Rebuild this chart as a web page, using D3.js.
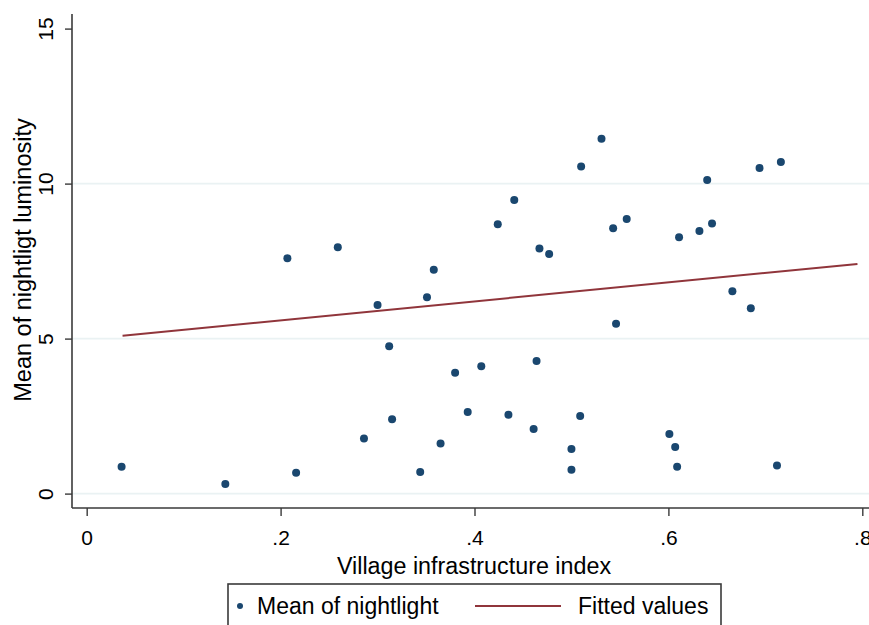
<!DOCTYPE html>
<html>
<head>
<meta charset="utf-8">
<script src="https://cdn.jsdelivr.net/npm/d3@7"></script>
<style>
  html, body { margin: 0; padding: 0; background: #fff; }
  svg { display: block; font-family: "Liberation Sans", Arial, sans-serif; }
</style>
</head>
<body>
<svg id="chart" width="869" height="625"></svg>
<script>
// Village infrastructure index (x) and mean nightlight luminosity (y)
const infraIndex = [
  0.036, 0.143, 0.207, 0.216, 0.259, 0.286, 0.300, 0.312, 0.315, 0.344,
  0.351, 0.358, 0.365, 0.380, 0.393, 0.407, 0.424, 0.435, 0.441, 0.461,
  0.464, 0.467, 0.477, 0.500, 0.500, 0.509, 0.510, 0.531, 0.543, 0.546,
  0.557, 0.601, 0.607, 0.609, 0.611, 0.632, 0.640, 0.645, 0.666, 0.685,
  0.694, 0.712, 0.716
];
const nightlight = [
  0.87, 0.31, 7.59, 0.67, 7.95, 1.78, 6.08, 4.75, 2.40, 0.70,
  6.33, 7.22, 1.62, 3.90, 2.63, 4.11, 8.69, 2.54, 9.47, 2.08,
  4.28, 7.91, 7.73, 1.44, 0.77, 2.50, 10.55, 11.45, 8.56, 5.48,
  8.86, 1.92, 1.50, 0.87, 8.27, 8.47, 10.12, 8.71, 6.53, 5.98,
  10.50, 0.91, 10.70
];
// Fitted values: end points of the linear fit
const fitX = [0.037, 0.795];
const fitY = [5.09, 7.41];

const xTicks = [0, 0.2, 0.4, 0.6, 0.8];
const xTickLabels = ["0", ".2", ".4", ".6", ".8"];
const yTicks = [0, 5, 10, 15];
const yGrid = [0, 5, 10];
const legendLabels = ["Mean of nightlight", "Fitted values"];

const navy = "#1a476f";
const maroon = "#90353b";
const gridColor = "#eaf2f3";
const axisColor = "#3a3a3a";

const svg = d3.select("#chart");

const plotLeft = 72, plotRight = 872, plotTop = 14, plotBottom = 508;
const x = d3.scaleLinear().domain([-0.01515, 0.81]).range([plotLeft, plotRight]);
const y = d3.scaleLinear().domain([0, 15]).range([493.6, 28.6]);

// horizontal grid lines
svg.append("g").selectAll("line").data(yGrid).join("line")
  .attr("x1", plotLeft).attr("x2", 869)
  .attr("y1", d => y(d)).attr("y2", d => y(d))
  .attr("stroke", gridColor).attr("stroke-width", 1.6);

// y axis
const yAxis = d3.axisLeft(y).tickValues(yTicks).tickSize(7).tickPadding(0).tickFormat(d3.format("d"));
const gy = svg.append("g").attr("transform", `translate(${plotLeft},0)`).call(yAxis);
gy.select(".domain").attr("d", `M0,${plotTop}V${plotBottom}`)
  .attr("stroke", axisColor).attr("stroke-width", 1.6);
gy.selectAll(".tick line").attr("stroke", axisColor).attr("stroke-width", 1.4);
gy.selectAll(".tick text")
  .attr("x", null).attr("dy", null)
  .attr("transform", "translate(-19,0) rotate(-90)")
  .attr("text-anchor", "middle")
  .attr("fill", "#000")
  .style("font-size", "21px");

// x axis
const xAxis = d3.axisBottom(x).tickValues(xTicks).tickSize(8).tickPadding(0)
  .tickFormat((d, i) => xTickLabels[i]);
const gx = svg.append("g").attr("transform", `translate(0,${plotBottom})`).call(xAxis);
gx.select(".domain").attr("d", `M${plotLeft},0H${plotRight}`)
  .attr("stroke", axisColor).attr("stroke-width", 1.6);
gx.selectAll(".tick line").attr("stroke", axisColor).attr("stroke-width", 1.4);
gx.selectAll(".tick text")
  .attr("y", 37).attr("dy", null)
  .attr("fill", "#000")
  .style("font-size", "21px");
gx.attr("font-family", null).attr("font-size", null);
gy.attr("font-family", null).attr("font-size", null);

// axis titles
svg.append("text")
  .attr("x", 474).attr("y", 574)
  .attr("text-anchor", "middle")
  .style("font-size", "23.3px")
  .text("Village infrastructure index");

svg.append("text")
  .attr("transform", "translate(31,260) rotate(-90)")
  .attr("text-anchor", "middle")
  .style("font-size", "23.5px")
  .text("Mean of nightligt luminosity");

// fitted line
const fitData = fitX.map((d, i) => [d, fitY[i]]);
svg.append("path")
  .datum(fitData)
  .attr("d", d3.line().x(d => x(d[0])).y(d => y(d[1])))
  .attr("fill", "none")
  .attr("stroke", maroon)
  .attr("stroke-width", 2);

// scatter points
svg.append("g").selectAll("circle").data(infraIndex).join("circle")
  .attr("cx", d => x(d))
  .attr("cy", (d, i) => y(nightlight[i]))
  .attr("r", 4)
  .attr("fill", navy);

// legend
const legend = svg.append("g");
legend.append("rect")
  .attr("x", 228).attr("y", 584).attr("width", 493).attr("height", 60)
  .attr("fill", "#fff").attr("stroke", axisColor).attr("stroke-width", 1.6);
legend.append("circle").attr("cx", 240).attr("cy", 606).attr("r", 3).attr("fill", navy);
legend.append("text").attr("x", 257).attr("y", 614).style("font-size", "23px").text(legendLabels[0]);
legend.append("line")
  .attr("x1", 475).attr("x2", 561).attr("y1", 606).attr("y2", 606)
  .attr("stroke", maroon).attr("stroke-width", 2);
legend.append("text").attr("x", 578).attr("y", 614).style("font-size", "23px").text(legendLabels[1]);
</script>
</body>
</html>
